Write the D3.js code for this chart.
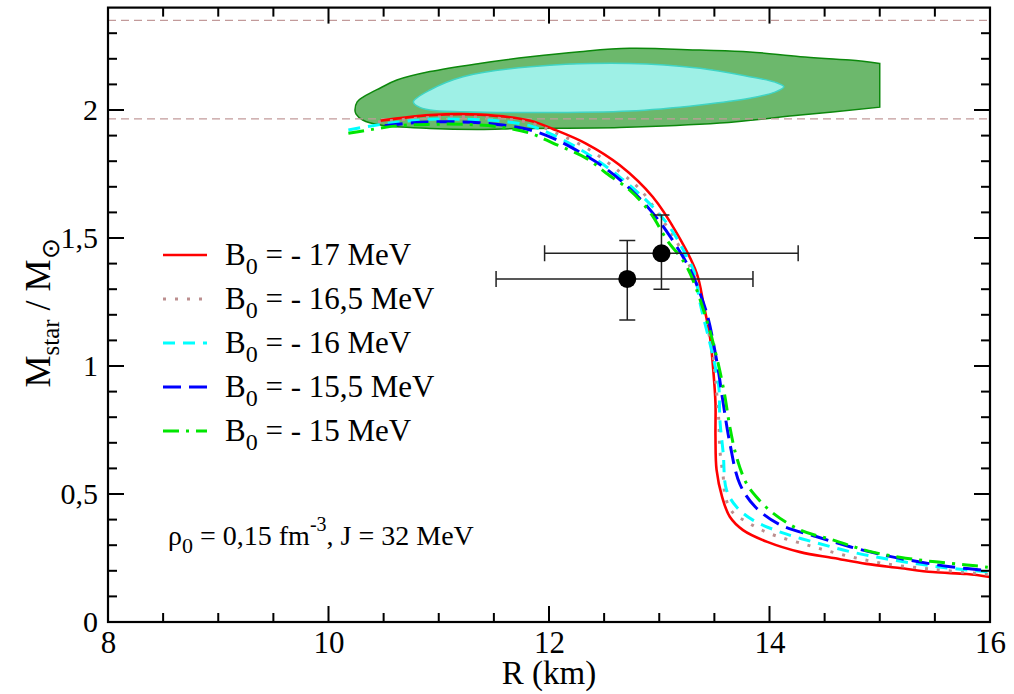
<!DOCTYPE html>
<html>
<head>
<meta charset="utf-8">
<script src="https://cdn.jsdelivr.net/npm/d3@7/dist/d3.min.js"></script>
<style>
  html, body { margin: 0; padding: 0; background: #fff; }
  svg { display: block; }
</style>
</head>
<body>
<svg id="chart" width="1014" height="694" font-family="Liberation Serif"></svg>
<script>
// Mass-radius relations for several values of B0 (R in km, M in solar masses)
const legendValues = ["- 17 MeV", "- 16,5 MeV", "- 16 MeV", "- 15,5 MeV", "- 15 MeV"];

const radiusB17 = [10.47, 10.92, 11.37, 11.83, 12.04, 12.34, 12.64, 12.94, 13.16, 13.34, 13.40, 13.46, 13.49, 13.51, 13.51, 13.52, 13.57, 13.64, 13.76, 13.98, 14.28, 14.58, 14.88, 15.18, 15.48, 15.79, 16.0];
const massB17   = [1.958, 1.980, 1.982, 1.958, 1.925, 1.868, 1.785, 1.661, 1.518, 1.362, 1.245, 1.114, 0.984, 0.855, 0.724, 0.594, 0.489, 0.411, 0.359, 0.313, 0.273, 0.250, 0.227, 0.211, 0.195, 0.1875, 0.176];

const radiusB165 = [10.45, 10.92, 11.37, 11.83, 12.07, 12.37, 12.64, 12.83, 13.01, 13.19, 13.33, 13.42, 13.48, 13.51, 13.54, 13.55, 13.58, 13.60, 13.66, 13.79, 14.00, 14.34, 14.67, 15.03, 15.48, 15.88, 16.0];
const massB165   = [1.953, 1.971, 1.972, 1.950, 1.909, 1.844, 1.759, 1.688, 1.583, 1.461, 1.336, 1.180, 1.063, 0.945, 0.789, 0.672, 0.568, 0.489, 0.431, 0.392, 0.346, 0.301, 0.262, 0.229, 0.206, 0.190, 0.186];

const radiusB16 = [10.18, 10.35, 10.62, 10.92, 11.22, 11.53, 11.83, 12.04, 12.34, 12.64, 12.94, 13.10, 13.25, 13.32, 13.37, 13.48, 13.54, 13.55, 13.58, 13.61, 13.70, 13.85, 14.12, 14.43, 14.73, 15.03, 15.34, 15.64, 16.0];
const massB16   = [1.922, 1.935, 1.952, 1.964, 1.964, 1.958, 1.938, 1.902, 1.831, 1.739, 1.622, 1.539, 1.427, 1.363, 1.246, 1.051, 0.919, 0.789, 0.660, 0.516, 0.450, 0.398, 0.348, 0.309, 0.275, 0.249, 0.227, 0.210, 0.195];

const radiusB155 = [10.51, 10.77, 11.07, 11.37, 11.58, 11.83, 12.04, 12.19, 12.49, 12.73, 12.94, 13.10, 13.25, 13.31, 13.43, 13.52, 13.58, 13.64, 13.73, 13.87, 14.10, 14.43, 14.73, 15.03, 15.34, 15.64, 16.0];
const massB155   = [1.939, 1.950, 1.954, 1.950, 1.941, 1.922, 1.889, 1.857, 1.779, 1.694, 1.598, 1.505, 1.401, 1.349, 1.207, 1.023, 0.855, 0.699, 0.540, 0.450, 0.379, 0.333, 0.294, 0.262, 0.236, 0.216, 0.200];

const radiusB15 = [10.18, 10.31, 10.62, 10.92, 11.22, 11.53, 11.83, 12.04, 12.34, 12.52, 12.73, 12.92, 13.07, 13.25, 13.43, 13.52, 13.59, 13.64, 13.70, 13.79, 13.88, 14.03, 14.28, 14.58, 14.88, 15.18, 15.48, 15.79, 16.0];
const massB15   = [1.909, 1.918, 1.938, 1.944, 1.944, 1.935, 1.909, 1.870, 1.811, 1.753, 1.688, 1.598, 1.492, 1.388, 1.180, 1.036, 0.895, 0.763, 0.646, 0.542, 0.489, 0.426, 0.359, 0.320, 0.279, 0.253, 0.236, 0.223, 0.213];

// NICER estimates for PSR J0030+0451 (radius and mass with asymmetric errors)
const obsRadius    = [12.71, 13.02];
const obsRadiusLo  = [11.52, 11.96];
const obsRadiusHi  = [13.85, 14.26];
const obsMass      = [1.34, 1.44];
const obsMassLo    = [1.18, 1.30];
const obsMassHi    = [1.49, 1.59];

// Heavy pulsar mass bounds
const massBounds = [1.965, 2.35];

// Mass-radius constraint contours (outer and inner confidence regions)
const outerRegionR = [15.00, 14.73, 14.28, 13.82, 13.37, 12.73, 12.28, 11.83, 11.37, 10.92, 10.62, 10.47, 10.32, 10.26, 10.24, 10.25, 10.31, 10.47, 10.92, 11.37, 11.74, 12.64, 13.55, 14.28, 15.00];
const outerRegionM = [2.182, 2.195, 2.208, 2.227, 2.234, 2.241, 2.228, 2.208, 2.182, 2.150, 2.117, 2.086, 2.052, 2.032, 2.000, 1.984, 1.961, 1.941, 1.928, 1.924, 1.928, 1.932, 1.949, 1.980, 2.011];
const innerRegionR = [10.77, 10.92, 11.22, 11.83, 12.73, 13.37, 13.82, 14.05, 14.13, 14.05, 13.82, 13.37, 12.73, 11.83, 11.22, 10.92, 10.81];
const innerRegionM = [2.032, 2.078, 2.130, 2.169, 2.182, 2.163, 2.130, 2.109, 2.091, 2.070, 2.046, 2.020, 1.996, 1.990, 1.993, 2.000, 2.014];

// Axis ticks
const xTicks = [8, 10, 12, 14, 16];
const xMinorTicks = [8.5, 9, 9.5, 10.5, 11, 11.5, 12.5, 13, 13.5, 14.5, 15, 15.5];
const yTicks = [0, 0.5, 1, 1.5, 2];
const yTickLabels = ["0", "0,5", "1", "1,5", "2"];
const yMinorTicks = [0.1, 0.2, 0.3, 0.4, 0.6, 0.7, 0.8, 0.9, 1.1, 1.2, 1.3, 1.4, 1.6, 1.7, 1.8, 1.9, 2.1, 2.2, 2.3];

const series = [
  { r: radiusB17,  m: massB17,  color: "#ff0000", width: 2.6, dash: null },
  { r: radiusB165, m: massB165, color: "#bc8f8f", width: 3,   dash: "3,9" },
  { r: radiusB16,  m: massB16,  color: "#00ffff", width: 3,   dash: "12,8" },
  { r: radiusB155, m: massB155, color: "#0000ff", width: 3,   dash: "18,8" },
  { r: radiusB15,  m: massB15,  color: "#00e600", width: 3,   dash: "16,7,3,7" }
];

const FONT = "Liberation Serif";
const svg = d3.select("#chart");
const padL = 108, padR = 990, padT = 7.6, padB = 622;
const x = d3.scaleLinear().domain([8, 16]).range([padL, padR]);
const y = d3.scaleLinear().domain([0, 2.4]).range([padB, padT]);

const defs = svg.append("defs");
defs.append("clipPath").attr("id", "plotClip")
  .append("rect").attr("x", padL).attr("y", padT).attr("width", padR - padL).attr("height", padB - padT);

const plot = svg.append("g").attr("clip-path", "url(#plotClip)");

// Outer region: smooth outline with a straight right edge
const outerPts = outerRegionR.map((r, i) => [x(r), y(outerRegionM[i])]);
plot.append("path").attr("d", d3.line().curve(d3.curveCatmullRom)(outerPts) + "Z")
  .attr("fill", "#6cb86c").attr("stroke", "#0c880c").attr("stroke-width", 1.5);

const innerPts = innerRegionR.map((r, i) => [x(r), y(innerRegionM[i])]);
plot.append("path").attr("d", d3.line().curve(d3.curveCatmullRomClosed)(innerPts))
  .attr("fill", "#9ef0e6").attr("stroke", "#3fd4c4").attr("stroke-width", 1.5);

// Horizontal mass bounds
massBounds.forEach(b => {
  plot.append("path").attr("d", `M${padL},${y(b)}H${padR}`)
    .attr("stroke", "#c29a9a").attr("stroke-width", 1.2).attr("stroke-dasharray", "8,5").attr("fill", "none");
});

// Mass-radius curves
const curve = d3.line().curve(d3.curveCatmullRom.alpha(0.5));
series.forEach(s => {
  const pts = s.r.map((r, i) => [x(r), y(s.m[i])]);
  plot.append("path").attr("d", curve(pts))
    .attr("fill", "none").attr("stroke", s.color).attr("stroke-width", s.width)
    .attr("stroke-dasharray", s.dash);
});

// Observational points with error bars
const obs = obsRadius.map((r, i) => ({ r, rl: obsRadiusLo[i], rh: obsRadiusHi[i], m: obsMass[i], ml: obsMassLo[i], mh: obsMassHi[i] }));
const cap = 8;
obs.forEach(o => {
  const cx = x(o.r), cy = y(o.m);
  const d = `M${x(o.rl)},${cy}H${x(o.rh)}` +
    `M${cx},${y(o.ml)}V${y(o.mh)}` +
    `M${x(o.rl)},${cy - cap}V${cy + cap}M${x(o.rh)},${cy - cap}V${cy + cap}` +
    `M${cx - cap},${y(o.ml)}H${cx + cap}M${cx - cap},${y(o.mh)}H${cx + cap}`;
  svg.append("path").attr("d", d).attr("stroke", "#222").attr("stroke-width", 1.5).attr("fill", "none");
});
svg.append("g").selectAll("circle").data(obs).join("circle")
  .attr("cx", d => x(d.r)).attr("cy", d => y(d.m)).attr("r", 9).attr("fill", "#000");

// Inward tick marks on all four sides, as thin filled bars
const MAJOR = 16, MINOR = 9, TW = 2;
const xTickSet = xTicks.map(v => ({ v, len: MAJOR })).concat(xMinorTicks.map(v => ({ v, len: MINOR })));
const yTickSet = yTicks.map(v => ({ v, len: MAJOR })).concat(yMinorTicks.map(v => ({ v, len: MINOR })));
const tg = svg.append("g").attr("fill", "#000");
tg.selectAll("rect.xb").data(xTickSet).join("rect").attr("class", "xb")
  .attr("x", d => x(d.v) - TW / 2).attr("y", d => padB - d.len).attr("width", TW).attr("height", d => d.len);
tg.selectAll("rect.xt").data(xTickSet).join("rect").attr("class", "xt")
  .attr("x", d => x(d.v) - TW / 2).attr("y", padT).attr("width", TW).attr("height", d => d.len);
tg.selectAll("rect.yl").data(yTickSet).join("rect").attr("class", "yl")
  .attr("x", padL).attr("y", d => y(d.v) - TW / 2).attr("width", d => d.len).attr("height", TW);
tg.selectAll("rect.yr").data(yTickSet).join("rect").attr("class", "yr")
  .attr("x", d => padR - d.len).attr("y", d => y(d.v) - TW / 2).attr("width", d => d.len).attr("height", TW);

// Tick labels from the axis generators
const xAxis = svg.append("g").attr("transform", `translate(0,${padB})`)
  .call(d3.axisBottom(x).tickValues(xTicks).tickSize(0).tickPadding(9).tickFormat(d3.format("d")));
xAxis.select(".domain").remove();
xAxis.attr("font-family", FONT).selectAll("text").attr("font-size", 31).attr("fill", "#000");
const yAxis = svg.append("g").attr("transform", `translate(${padL},0)`)
  .call(d3.axisLeft(y).tickValues(yTicks).tickSize(0).tickPadding(10).tickFormat((d, i) => yTickLabels[i]));
yAxis.select(".domain").remove();
yAxis.attr("font-family", FONT).selectAll("text").attr("font-size", 30).attr("fill", "#000");

// Plot frame
svg.append("rect").attr("x", padL).attr("y", padT).attr("width", padR - padL).attr("height", padB - padT)
  .attr("fill", "none").attr("stroke", "#000").attr("stroke-width", 2.2);

// Axis titles
svg.append("text").attr("x", 549).attr("y", 684).attr("text-anchor", "middle")
  .attr("font-family", FONT).attr("font-size", 33).text("R (km)");
const yt = svg.append("text").attr("transform", "translate(50,313) rotate(-90)")
  .attr("text-anchor", "middle").attr("font-family", FONT).attr("font-size", 36);
yt.append("tspan").text("M");
yt.append("tspan").attr("font-size", 25).attr("dy", 9).text("star");
yt.append("tspan").attr("dy", -9).text(" / M");
yt.append("tspan").attr("font-size", 25).attr("dy", 9).text("\u2299");

// Legend
const legend = svg.append("g").attr("font-family", FONT);
series.forEach((s, i) => {
  const ly = 255 + i * 44;
  legend.append("path").attr("d", `M163,${ly}H207`)
    .attr("stroke", s.color).attr("stroke-width", s.width).attr("stroke-dasharray", s.dash).attr("fill", "none");
  const t = legend.append("text").attr("x", 225).attr("y", ly + 10).attr("font-size", 31);
  t.append("tspan").text("B");
  t.append("tspan").attr("font-size", 24).attr("dy", 9).text("0");
  t.append("tspan").attr("dy", -9).text(" = " + legendValues[i]);
});

// Parameter annotation
const note = svg.append("text").attr("x", 168).attr("y", 545).attr("font-family", FONT).attr("font-size", 28);
note.append("tspan").text("\u03c1");
note.append("tspan").attr("font-size", 22).attr("dy", 8).text("0");
note.append("tspan").attr("dy", -8).text(" = 0,15 fm");
note.append("tspan").attr("font-size", 20).attr("dy", -14).text("-3");
note.append("tspan").attr("dy", 14).text(", J = 32 MeV");
</script>
</body>
</html>
